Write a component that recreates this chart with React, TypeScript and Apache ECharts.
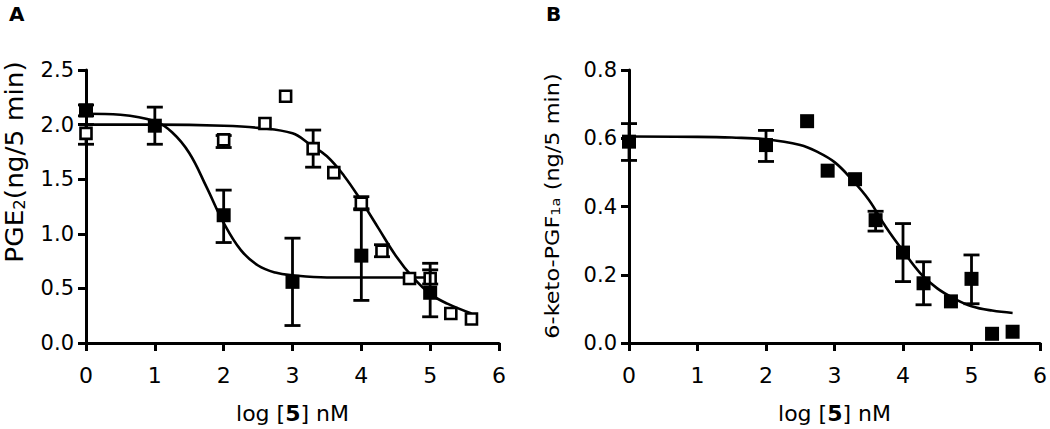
import React, { useEffect, useRef } from "react";
import * as echarts from "echarts";

// ---------- Panel A ----------
const aFilledX = [0, 1, 2, 3, 4, 5];
const aFilledY = [2.13, 1.99, 1.17, 0.56, 0.8, 0.46];
const aFilledLow = [2.08, 1.82, 0.92, 0.16, 0.39, 0.24];
const aFilledHigh = [2.18, 2.16, 1.4, 0.96, 1.22, 0.67];

const aOpenX = [0, 2, 2.6, 2.9, 3.3, 3.6, 4, 4.3, 4.7, 5, 5.3, 5.6];
const aOpenY = [1.92, 1.86, 2.01, 2.26, 1.78, 1.56, 1.28, 0.84, 0.59, 0.59, 0.27, 0.22];
const aOpenLow = [1.82, 1.79, null, null, 1.61, null, 1.23, 0.79, null, 0.54, null, null];
const aOpenHigh = [2.0, 1.9, null, null, 1.95, null, 1.34, 0.9, null, 0.73, null, null];

const aFitFilledX = [0, 0.5, 1, 1.25, 1.5, 1.75, 2, 2.25, 2.5, 2.75, 3, 3.5, 4, 4.5, 5];
const aFitFilledY = [2.1, 2.09, 2.03, 1.93, 1.74, 1.43, 1.1, 0.85, 0.71, 0.645, 0.62, 0.6, 0.6, 0.6, 0.6];

const aFitOpenX = [0, 1, 2, 2.5, 3, 3.25, 3.5, 3.75, 4, 4.25, 4.5, 4.75, 5, 5.25, 5.6];
const aFitOpenY = [2.0, 2.0, 1.99, 1.97, 1.92, 1.82, 1.71, 1.53, 1.3, 1.05, 0.8, 0.6, 0.45, 0.36, 0.27];

// ---------- Panel B ----------
const bX = [0, 2, 2.6, 2.9, 3.3, 3.6, 4, 4.3, 4.7, 5, 5.3, 5.6];
const bY = [0.59, 0.58, 0.65, 0.505, 0.48, 0.36, 0.265, 0.175, 0.122, 0.188, 0.027, 0.033];
const bLow = [0.535, 0.532, null, null, null, 0.328, 0.18, 0.112, null, 0.115, null, null];
const bHigh = [0.643, 0.623, null, null, null, 0.386, 0.35, 0.238, null, 0.258, null, null];

const bFitX = [0, 1, 1.5, 2, 2.5, 2.75, 3, 3.25, 3.5, 3.75, 4, 4.25, 4.5, 4.75, 5, 5.3, 5.6];
const bFitY = [0.605, 0.604, 0.602, 0.597, 0.58, 0.56, 0.53, 0.48, 0.42, 0.34, 0.27, 0.205, 0.16, 0.13, 0.108, 0.095, 0.088];

// ---------- Axis tick labels ----------
const xTicks = [0, 1, 2, 3, 4, 5, 6];
const aYTicks = [0, 0.5, 1.0, 1.5, 2.0, 2.5];
const bYTicks = [0, 0.2, 0.4, 0.6, 0.8];

const FONT = "DejaVu Sans";
const BLACK = "#000";

const zip = (xs: number[], ys: number[]) => xs.map((x, i) => [x, ys[i]]);
const errData = (xs: number[], lo: (number | null)[], hi: (number | null)[]) =>
  xs
    .map((x, i) => (lo[i] == null || hi[i] == null ? null : [x, lo[i], hi[i]]))
    .filter((d) => d != null);

const errSeries = (xi: number, data: any[], z: number) => ({
  type: "custom",
  xAxisIndex: xi,
  yAxisIndex: xi,
  data,
  silent: true,
  z,
  renderItem: (params: any, api: any) => {
    const x = api.value(0);
    const lo = api.coord([x, api.value(1)]);
    const hi = api.coord([x, api.value(2)]);
    const cap = 8;
    const style = { stroke: BLACK, lineWidth: 2.8 };
    return {
      type: "group",
      children: [
        { type: "line", shape: { x1: lo[0], y1: lo[1], x2: hi[0], y2: hi[1] }, style },
        { type: "line", shape: { x1: lo[0] - cap, y1: lo[1], x2: lo[0] + cap, y2: lo[1] }, style },
        { type: "line", shape: { x1: hi[0] - cap, y1: hi[1], x2: hi[0] + cap, y2: hi[1] }, style },
      ],
    };
  },
});

const fitSeries = (xi: number, xs: number[], ys: number[]) => ({
  type: "line",
  xAxisIndex: xi,
  yAxisIndex: xi,
  data: zip(xs, ys),
  smooth: 0.4,
  symbol: "none",
  lineStyle: { color: BLACK, width: 2.6, opacity: 1 },
  z: 2,
});

const scatterSeries = (xi: number, xs: number[], ys: number[], open: boolean, z: number) => ({
  type: "scatter",
  xAxisIndex: xi,
  yAxisIndex: xi,
  data: zip(xs, ys),
  symbol: "rect",
  symbolSize: open ? 11 : 14,
  itemStyle: open
    ? { color: "#fff", borderColor: BLACK, borderWidth: 2.6, opacity: 1 }
    : { color: BLACK, opacity: 1 },
  z,
});

const xAxisDef = (gi: number) => ({
  type: "value",
  gridIndex: gi,
  min: 0,
  max: 6,
  interval: 1,
  axisLine: { show: true, onZero: false, lineStyle: { color: BLACK, width: 3 } },
  axisTick: { show: true, length: 8, lineStyle: { color: BLACK, width: 3 } },
  axisLabel: {
    color: BLACK,
    fontSize: 22,
    fontFamily: FONT,
    margin: 21,
    formatter: (v: number) => (xTicks.includes(v) ? String(v) : ""),
  },
  splitLine: { show: false },
  name: "log [{b|5}] nM",
  nameLocation: "middle",
  nameGap: 59,
  nameMoveOverlap: false,
  nameTextStyle: {
    color: BLACK,
    fontSize: 22,
    fontFamily: FONT,
    rich: { b: { fontWeight: "bold", fontSize: 22, fontFamily: FONT, color: BLACK } },
  },
});

const yAxisDef = (gi: number, max: number, interval: number, ticks: number[]) => ({
  type: "value",
  gridIndex: gi,
  min: 0,
  max,
  interval,
  axisLine: { show: true, onZero: false, lineStyle: { color: BLACK, width: 3 } },
  axisTick: { show: true, length: 8, lineStyle: { color: BLACK, width: 3 } },
  axisLabel: {
    color: BLACK,
    fontSize: 21,
    fontFamily: FONT,
    margin: 12,
    formatter: (v: number) => {
      const t = ticks.find((k) => Math.abs(k - v) < 1e-9);
      return t == null ? "" : t.toFixed(1);
    },
  },
  splitLine: { show: false },
});

export default function App() {
  const ref = useRef<HTMLDivElement>(null);
  useEffect(() => {
    if (!ref.current) return;
    const chart = echarts.init(ref.current, null, { renderer: "svg" });
    chart.setOption({
      animation: false,
      backgroundColor: "#fff",
      grid: [
        { left: 86, top: 70, width: 413, height: 273 },
        { left: 629, top: 70, width: 413, height: 273 },
      ],
      xAxis: [xAxisDef(0), xAxisDef(1)],
      yAxis: [yAxisDef(0, 2.5, 0.5, aYTicks), yAxisDef(1, 0.8, 0.2, bYTicks)],
      graphic: [
        { type: "text", left: 9, top: 4, style: { text: "A", fontSize: 20, fontWeight: "bold", fontFamily: FONT, fill: BLACK } },
        { type: "text", left: 546, top: 4, style: { text: "B", fontSize: 20, fontWeight: "bold", fontFamily: FONT, fill: BLACK } },
        {
          type: "text",
          x: 15,
          y: 162,
          rotation: Math.PI / 2,
          scaleX: 1.1,
          style: {
            text: "PGE{s|2}(ng/5 min)",
            fontSize: 24,
            fontFamily: FONT,
            fill: BLACK,
            align: "center",
            verticalAlign: "middle",
            rich: { s: { fontSize: 15, fontFamily: FONT, verticalAlign: "bottom", fill: BLACK } },
          },
        },
        {
          type: "text",
          x: 552,
          y: 206,
          rotation: Math.PI / 2,
          scaleX: 1.12,
          style: {
            text: "6-keto-PGF{s|1a} (ng/5 min)",
            fontSize: 20,
            fontFamily: FONT,
            fill: BLACK,
            align: "center",
            verticalAlign: "middle",
            rich: { s: { fontSize: 13, fontFamily: FONT, verticalAlign: "bottom", fill: BLACK } },
          },
        },
      ],
      series: [
        fitSeries(0, aFitFilledX, aFitFilledY),
        fitSeries(0, aFitOpenX, aFitOpenY),
        errSeries(0, errData(aOpenX, aOpenLow, aOpenHigh), 4),
        scatterSeries(0, aOpenX, aOpenY, true, 5),
        errSeries(0, errData(aFilledX, aFilledLow, aFilledHigh), 6),
        scatterSeries(0, aFilledX, aFilledY, false, 7),
        fitSeries(1, bFitX, bFitY),
        errSeries(1, errData(bX, bLow, bHigh), 4),
        scatterSeries(1, bX, bY, false, 7),
      ],
    });
    return () => chart.dispose();
  }, []);
  return (
    <div
      ref={ref}
      style={{ position: "absolute", left: 0, top: 0, width: 1050, height: 429 }}
    />
  );
}
